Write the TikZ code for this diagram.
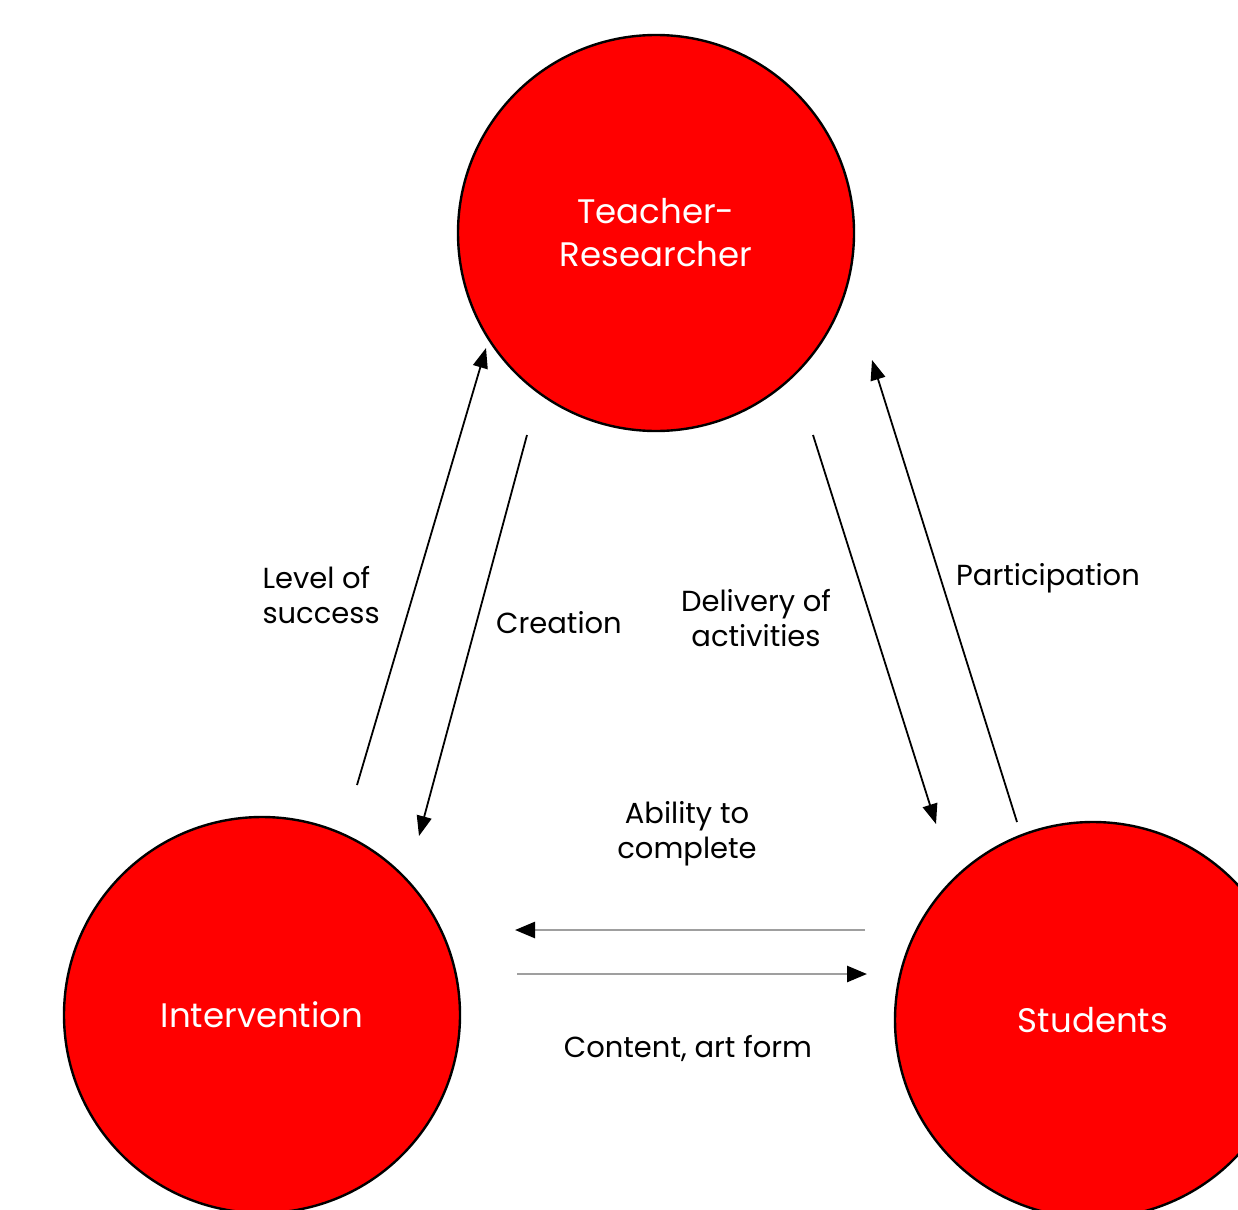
\documentclass[tikz,border=0pt]{standalone}
\usepackage{fontspec}
\setmainfont{Poppins}
\usetikzlibrary{arrows.meta}

\begin{document}
\begin{tikzpicture}[x=1pt, y=-1pt,
    party/.style = {draw, circle, line width=2.4pt, fill=red, text=white, minimum size=396pt, inner sep=0pt, align=center, font=\fontsize{34}{43}\selectfont},
    lbl/.style = {align=center, font=\fontsize{29}{35}\selectfont},
    flow/.style = {line width=1.8pt, -{Triangle[length=20pt,width=15pt]}},
    grayflow/.style = {line width=2.6pt, draw=gray!75, -{Triangle[length=20pt,width=16pt,color=black]}}]

    \useasboundingbox (0,0) rectangle (1238,1209);
    \clip (0,0) rectangle (1238,1209);

    % Kroge
    \node[party] (teacher) at (656,233) {Teacher-\\Researcher};
    \node[party] (intervention) at (262,1015) {Intervention};
    \node[party] (students) at (1093,1020) {Students};

    % Konci puscic
    \coordinate (ls1) at (357,785);
    \coordinate (ls2) at (486,348);
    \coordinate (cr1) at (527,435);
    \coordinate (cr2) at (419,836);
    \coordinate (da1) at (813,435);
    \coordinate (da2) at (936,824);
    \coordinate (pa1) at (1017,822);
    \coordinate (pa2) at (872,360);
    \coordinate (ab1) at (865,930);
    \coordinate (ab2) at (515,930);
    \coordinate (co1) at (517,974);
    \coordinate (co2) at (867,974);

    % Puscice
    \draw[flow] (ls1) -- (ls2);
    \draw[flow] (cr1) -- (cr2);
    \draw[flow] (da1) -- (da2);
    \draw[flow] (pa1) -- (pa2);
    \draw[grayflow] (ab1) -- (ab2);
    \draw[grayflow] (co1) -- (co2);

    % Oznake
    \node[lbl, align=left, anchor=west] (success) at (259,595) {Level of\\success};
    \node[lbl] (creation) at (559,623) {Creation};
    \node[lbl] (delivery) at (756,618) {Delivery of\\activities};
    \node[lbl] (participation) at (1048,578) {Participation};
    \node[lbl] (ability) at (687,834) {Ability to\\complete};
    \node[lbl] (content) at (688,1048) {Content, art form};

\end{tikzpicture}
\end{document}
